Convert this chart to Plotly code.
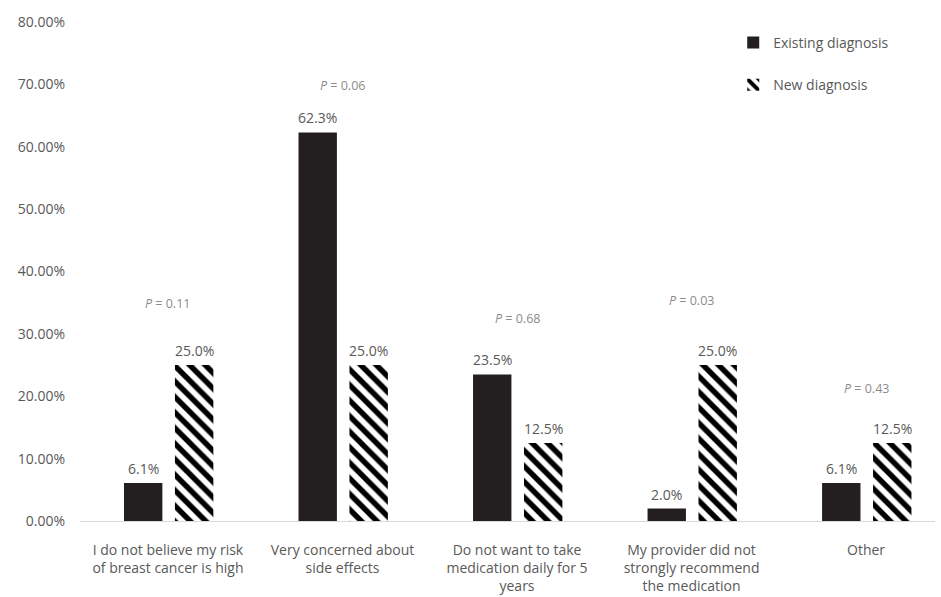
import plotly.graph_objects as go

categories = [
    "I do not believe my risk<br>of breast cancer is high",
    "Very concerned about<br>side effects",
    "Do not want to take<br>medication daily for 5<br>years",
    "My provider did not<br>strongly recommend<br>the medication",
    "Other",
]
existing = [6.1, 62.3, 23.5, 2.0, 6.1]
new = [25.0, 25.0, 12.5, 25.0, 12.5]
p_values = ["0.11", "0.06", "0.68", "0.03", "0.43"]
p_label_y = [34.9, 69.9, 32.5, 35.3, 21.2]
y_ticks = [0, 10, 20, 30, 40, 50, 60, 70, 80]

FONT = "'Open Sans', sans-serif"
GRAY = "#595959"
x = list(range(len(categories)))
W = 0.22
OFF_A = -0.252
OFF_B = 0.04

fig = go.Figure()
fig.add_trace(go.Bar(
    x=x, y=existing, name="Existing diagnosis",
    marker=dict(color="#231f20", line=dict(width=0)),
    width=W, offset=OFF_A, legendgroup="a",
))
fig.add_trace(go.Bar(
    x=x, y=new, name="New diagnosis",
    marker=dict(color="white", line=dict(width=0),
                pattern=dict(shape="\\", fgcolor="#000000", bgcolor="white",
                             fgopacity=1, size=11, solidity=0.5,
                             fillmode="overlay")),
    width=W, offset=OFF_B, legendgroup="b",
))

for series, off in ((existing, OFF_A), (new, OFF_B)):
    for i, v in enumerate(series):
        fig.add_annotation(x=i + off + W / 2, y=v, xref="x", yref="y",
                           text=f"{v:.1f}%", showarrow=False,
                           yanchor="bottom", yshift=3,
                           font=dict(color=GRAY, size=14, family=FONT))

for i, (p, yy) in enumerate(zip(p_values, p_label_y)):
    fig.add_annotation(x=i, y=yy, xref="x", yref="y",
                       text=f"<i>P</i> = {p}", showarrow=False,
                       font=dict(color="#8c8c8c", size=12.5, family=FONT))

fig.update_layout(
    width=941, height=597,
    margin=dict(l=80, r=6, t=22, b=76),
    plot_bgcolor="white", paper_bgcolor="white",
    barmode="overlay",
    font=dict(family=FONT, color=GRAY, size=14),
    showlegend=True,
    legend=dict(x=0.764, y=0.99, xanchor="left", yanchor="top",
                font=dict(size=14, color=GRAY, family=FONT),
                tracegroupgap=21, bgcolor="rgba(0,0,0,0)"),
    xaxis=dict(tickmode="array", tickvals=x, ticktext=categories,
               range=[-0.504, 4.395], showgrid=False, ticks="",
               showline=False, zeroline=False, ticklabelstandoff=19,
               automargin=False,
               tickfont=dict(size=14, color=GRAY, family=FONT)),
    yaxis=dict(range=[0, 80], tickvals=y_ticks,
               ticktext=[f"{v:.2f}%" for v in y_ticks],
               showgrid=False, zeroline=True, zerolinecolor="#d9d9d9",
               zerolinewidth=1, ticks="", ticklabelstandoff=14,
               automargin=False,
               tickfont=dict(size=14, color=GRAY, family=FONT)),
)

fig.write_html("out.html")
